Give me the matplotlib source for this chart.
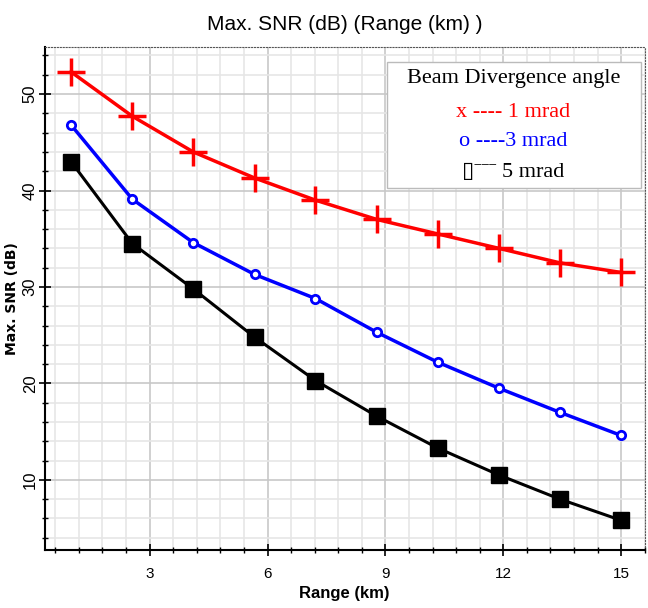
import matplotlib
matplotlib.use("Agg")
import matplotlib.pyplot as plt
from matplotlib.ticker import MultipleLocator

# range (km)
range_km = [1.0, 2.56, 4.11, 5.67, 7.22, 8.78, 10.33, 11.89, 13.44, 15.0]
# max SNR (dB) for each beam divergence angle
snr_1mrad = [52.3, 47.7, 44.0, 41.3, 39.0, 37.0, 35.5, 34.0, 32.5, 31.5]
snr_3mrad = [46.8, 39.1, 34.6, 31.3, 28.8, 25.3, 22.2, 19.5, 17.0, 14.6]
snr_5mrad = [43.0, 34.5, 29.8, 24.8, 20.3, 16.6, 13.3, 10.5, 8.0, 5.8]

narrow = ["Liberation Sans Narrow", "Liberation Sans", "DejaVu Sans"]
serif = ["Liberation Serif", "DejaVu Serif"]

fig = plt.figure(figsize=(6.48, 6.08), dpi=100)
ax = fig.add_axes([0.069, 0.095, 0.926, 0.828])

ax.plot(range_km, snr_1mrad, color="red", lw=2.5, marker="+", ms=20, mew=2.5)
ax.plot(range_km, snr_3mrad, color="blue", lw=2.5, marker="o", ms=6,
        mfc="white", mew=2)
ax.plot(range_km, snr_5mrad, color="black", lw=2.2, marker="s", ms=11)

ax.set_xlim(0.33, 15.6)
ax.set_ylim(2.7, 54.9)
ax.xaxis.set_major_locator(MultipleLocator(3))
ax.xaxis.set_minor_locator(MultipleLocator(0.6))
ax.yaxis.set_major_locator(MultipleLocator(10))
ax.yaxis.set_minor_locator(MultipleLocator(2))
ax.grid(which="major", color="#c8c8c8", lw=1.2)
ax.grid(which="minor", color="#e6e6e6", lw=1.2)
ax.set_axisbelow(True)

ax.tick_params(axis="both", which="both", direction="inout", color="black")
ax.tick_params(which="major", length=8, width=1.2)
ax.tick_params(which="minor", length=5, width=1)
ax.tick_params(axis="x", which="major", pad=8)
ax.tick_params(axis="y", which="major", pad=1)
for lab in ax.get_xticklabels():
    lab.set_family(narrow)
    lab.set_fontsize(11)
for lab in ax.get_yticklabels():
    lab.set_family(narrow)
    lab.set_fontsize(12)
    lab.set_rotation(90)
    lab.set_va("center")

for s in ["top", "right"]:
    ax.spines[s].set_linestyle(":")
    ax.spines[s].set_color("#555555")
ax.spines["left"].set_linewidth(1.5)
ax.spines["bottom"].set_linewidth(1.5)

ax.set_title("Max. SNR (dB) (Range (km) )", family=narrow, fontsize=15, pad=12)
ax.set_xlabel("Range (km)", family=narrow, fontsize=12, fontweight="bold")
ax.set_ylabel("Max. SNR (dB)", fontsize=10, fontweight="bold", labelpad=3)

# legend drawn as a text box like the original
box = plt.Rectangle((0.571, 0.72), 0.422, 0.25, transform=ax.transAxes,
                    facecolor="white", edgecolor="#bbbbbb", lw=1, zorder=5)
ax.add_patch(box)
ax.text(0.781, 0.938, "Beam Divergence angle", transform=ax.transAxes,
        family=serif, fontsize=16, ha="center", va="center", zorder=6)
ax.text(0.781, 0.869, "x ---- 1 mrad", transform=ax.transAxes, color="red",
        family=serif, fontsize=16, ha="center", va="center", zorder=6)
ax.text(0.781, 0.811, "o ----3 mrad", transform=ax.transAxes, color="blue",
        family=serif, fontsize=16, ha="center", va="center", zorder=6)
ax.text(0.781, 0.751, "\u25af\u02c9\u02c9\u02c9 5 mrad", transform=ax.transAxes,
        color="black", family=serif + ["DejaVu Sans"], fontsize=16,
        ha="center", va="center", zorder=6)

fig.savefig("out.png", dpi=100)
